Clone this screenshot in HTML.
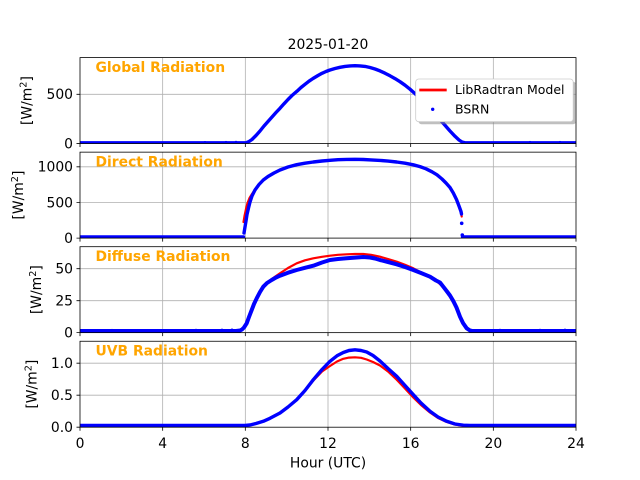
<!DOCTYPE html>
<html><head><meta charset="utf-8"><style>
html,body{margin:0;padding:0;background:#fff}
svg{display:block}
text{font-family:"DejaVu Sans","Liberation Sans",sans-serif;font-size:13.9px;fill:#000}
.t{font-weight:bold;fill:#FFA500}
.lg{font-size:12.5px}
.g{stroke:#b0b0b0;stroke-width:0.8;fill:none}
.b{fill:none;stroke:#0000ff;stroke-width:3.4;stroke-linejoin:round;stroke-linecap:round}
.r{fill:none;stroke:#ff0000;stroke-width:2.2;stroke-linejoin:round;stroke-linecap:round}
.k{stroke:#000;stroke-width:0.8;fill:none}
</style></head><body>
<svg width="640" height="480" viewBox="0 0 640 480" xmlns="http://www.w3.org/2000/svg">
<defs>
<clipPath id="c1"><rect x="80" y="57.6" width="496" height="85.95"/></clipPath>
<clipPath id="c2"><rect x="80" y="152.15" width="496" height="85.95"/></clipPath>
<clipPath id="c3"><rect x="80" y="246.7" width="496" height="85.95"/></clipPath>
<clipPath id="c4"><rect x="80" y="341.25" width="496" height="85.95"/></clipPath>
</defs>
<rect width="640" height="480" fill="#fff"/>

<!-- grids -->
<g class="g">
<path d="M162.67,57.6V143.55M245.33,57.6V143.55M328,57.6V143.55M410.67,57.6V143.55M493.33,57.6V143.55M80,94.3H576"/>
<path d="M162.67,152.15V238.1M245.33,152.15V238.1M328,152.15V238.1M410.67,152.15V238.1M493.33,152.15V238.1M80,202.5H576M80,166.8H576"/>
<path d="M162.67,246.7V332.65M245.33,246.7V332.65M328,246.7V332.65M410.67,246.7V332.65M493.33,246.7V332.65M80,300.7H576M80,268.7H576"/>
<path d="M162.67,341.25V427.2M245.33,341.25V427.2M328,341.25V427.2M410.67,341.25V427.2M493.33,341.25V427.2M80,395.2H576M80,363.2H576"/>
</g>

<!-- Panel 1 Global -->
<g clip-path="url(#c1)">
<polyline class="r" points="80,143 246,143 249,141.5 252,139.5 256,135.5 260,131 264,126 268,121.5 272,117 276,112.5 280,108.3 284,103.8 288,99.5 292,95.5 297,91.2 301,87.5 305,84.3 309,81.2 313,78.5 318,75.5 322,73.3 326,71.5 330,70 335,68.5 340,67.3 345,66.4 350,65.9 355,65.7 360,65.9 365,66.4 370,67.5 375,69 380,70.9 385,73.2 390,75.8 395,78.6 400,81.7 405,85.2 410,89.2 415,93.6 420,98.3 425,103.3 430,108.5 435,114 440,119.6 445,125.3 450,131 455,136.3 459,140 462,142 465,143 576,143"/>
<polyline class="b" points="80,142.8 246,142.8 249,141.5 252,139.5 256,135.5 260,131 264,126 268,121.5 272,117 276,112.5 280,108.3 284,103.8 288,99.5 292,95.5 297,91.2 301,87.5 305,84.3 309,81.2 313,78.5 318,75.5 322,73.3 326,71.5 330,70 335,68.5 340,67.3 345,66.4 350,65.9 355,65.7 360,65.9 365,66.4 370,67.5 375,69 380,70.9 385,73.2 390,75.8 395,78.6 400,81.7 405,85.2 410,89.2 415,93.6 420,98.3 425,103.3 430,108.5 435,114 440,119.6 445,125.3 450,131 455,136.3 459,140 462,142 465,142.8 576,142.8"/>
<g fill="#0000ff"><circle cx="205" cy="142.2" r="1.2"/><circle cx="226" cy="142.1" r="1.2"/><circle cx="236" cy="142" r="1.2"/><circle cx="530" cy="142.1" r="1.2"/><circle cx="560" cy="142.1" r="1.2"/></g>
</g>

<!-- Panel 2 Direct -->
<g clip-path="url(#c2)">
<polyline class="r" points="243.5,222 244.5,216 246,209 247.5,203 249.5,198 252,194 255,189.5 259,184.5 263.3,180 268,176.5 274,173 280,170 288,167 296.7,164.7 305,163.2 313.3,162 322,161 330,160.3 338,159.7 346.7,159.4 355,159.3 363.3,159.5 371,159.9 380,160.4 388,161.1 396.7,162 405,163.2 413.3,164.8 420,166.6 426,168.8 432,171.8 437,174.8 442,179 446,183 450,187.5 453.3,193 456.5,199.5 459,206 461,212 461.7,216.5"/>
<polyline class="b" points="80,237 243.5,237"/>
<polyline class="b" points="244,233 245,227 246,221 247,214.5 248.5,208 250,202 252,196 255,190 259,184.5 263.3,180 268,176.5 274,173 280,170 288,167 296.7,164.7 305,163.2 313.3,162 322,161 330,160.3 338,159.7 346.7,159.4 355,159.3 363.3,159.5 371,159.9 380,160.4 388,161.1 396.7,162 405,163.2 413.3,164.8 420,166.6 426,168.8 432,171.8 437,174.8 442,179 446,183 450,187.5 453.3,193 456.5,199.5 459,206 461,211.5 461.5,214"/>
<circle cx="461.7" cy="223.3" r="1.8" fill="#0000ff"/>
<circle cx="462.3" cy="235" r="1.8" fill="#0000ff"/>
<polyline class="b" points="462.5,237 576,237"/>
</g>

<!-- Panel 3 Diffuse -->
<g clip-path="url(#c3)">
<polyline class="r" points="80,332 236,332 240,331 242,329.8 244,327.5 246.7,323.3 249,317 251.7,310 254,304 256.7,298.3 260,292 263.3,286.5 267,282.5 271.7,279 276,276 280,273.3 288,268 296.7,263.3 305,260.3 313.3,258.3 322,256.8 330,255.7 338,254.8 346.7,254.3 355,254 363.3,254 371,254.8 380,256.7 388,259 396.7,261.7 405,264.8 413.3,268.3 421,272.3 430,276.7 436,280.5 441,285 446,291 450,297 454,304 458,312 462,320.5 465,326 468,329.5 471,331.5 474,332 576,332"/>
<polyline class="b" style="stroke-width:4" points="80,331 236,331 240,330.5 242,329.5 244,327.5 246.7,323.3 249,317 251.7,310 254,304 256.7,298.3 260,292 263.3,286.7 267,283 271.7,280 276,277.5 280,275.7 288,272.7 296.7,270 305,267.8 313.3,265.7 322,262.5 330,260 338,259 346.7,258.3 355,257.6 363.3,257 370,257.5 375,258.5 380,260 388,262 396.7,264.3 405,267 413.3,270 421,273 430,276.7 436,280.5 440,282.5 443.3,286.7 447,291.5 450,295.5 453.3,301 456.5,307.5 460,316.7 463,323 466.7,328.3 470,330.5 472,331 576,331"/>
<g fill="#0000ff"><circle cx="112" cy="330.3" r="1.4"/><circle cx="196" cy="330.2" r="1.4"/><circle cx="222" cy="330" r="1.4"/><circle cx="232" cy="329.9" r="1.4"/><circle cx="500" cy="330.1" r="1.4"/><circle cx="540" cy="330.1" r="1.4"/><circle cx="565" cy="330" r="1.4"/></g>
</g>

<!-- Panel 4 UVB -->
<g clip-path="url(#c4)">
<polyline class="r" points="80,426 245,426 250,425.3 256,423.8 263.3,421.5 270,418.5 280,413.2 288,407.2 296.7,400 305,391 313.3,380.6 322,371.5 330,366 337,361.5 343.3,358.8 349,357.6 355,357.3 361,357.8 366.7,359.5 373,362 380,365.5 388,371.5 396.7,379.7 405,388.5 413.3,397.5 421,405 430,412.5 438,418 446.7,422 455,424.6 463,425.9 470,426.2 576,426.2"/>
<polyline class="b" points="80,425.5 245,425.5 250,425 256,423.5 263.3,421.3 270,418.3 280,413 288,407 296.7,399.7 305,390.5 313.3,379.7 322,369.5 330,361.3 337,355.8 343.3,352.5 349,350.5 355,349.8 361,350.5 366.7,352 373,355.5 380,361 388,368.5 396.7,376.3 405,385.5 413.3,394.7 421,403 430,411.3 438,417 446.7,421.3 455,424 463.3,425.2 470,425.5 576,425.5"/>
</g>

<!-- spines -->
<g class="k">
<rect x="80" y="57.6" width="496" height="85.95"/>
<rect x="80" y="152.15" width="496" height="85.95"/>
<rect x="80" y="246.7" width="496" height="85.95"/>
<rect x="80" y="341.25" width="496" height="85.95"/>
<path d="M80,143.55v3.5M162.67,143.55v3.5M245.33,143.55v3.5M328,143.55v3.5M410.67,143.55v3.5M493.33,143.55v3.5M576,143.55v3.5"/>
<path d="M80,238.1v3.5M162.67,238.1v3.5M245.33,238.1v3.5M328,238.1v3.5M410.67,238.1v3.5M493.33,238.1v3.5M576,238.1v3.5"/>
<path d="M80,332.65v3.5M162.67,332.65v3.5M245.33,332.65v3.5M328,332.65v3.5M410.67,332.65v3.5M493.33,332.65v3.5M576,332.65v3.5"/>
<path d="M80,427.2v3.5M162.67,427.2v3.5M245.33,427.2v3.5M328,427.2v3.5M410.67,427.2v3.5M493.33,427.2v3.5M576,427.2v3.5"/>
<path d="M80,143.55h-3.5M80,94.3h-3.5"/>
<path d="M80,238.1h-3.5M80,202.5h-3.5M80,166.8h-3.5"/>
<path d="M80,332.65h-3.5M80,300.7h-3.5M80,268.7h-3.5"/>
<path d="M80,427.2h-3.5M80,395.2h-3.5M80,363.2h-3.5"/>
</g>

<!-- y tick labels -->
<g text-anchor="end">
<text x="73" y="148.4">0</text><text x="73" y="99.1">500</text>
<text x="73" y="242.9">0</text><text x="73" y="207.3">500</text><text x="73" y="171.6">1000</text>
<text x="73" y="337.4">0</text><text x="73" y="305.5">25</text><text x="73" y="273.5">50</text>
<text x="73" y="432">0.0</text><text x="73" y="400">0.5</text><text x="73" y="368">1.0</text>
</g>

<!-- x tick labels -->
<g text-anchor="middle">
<text x="80" y="448">0</text><text x="162.67" y="448">4</text><text x="245.33" y="448">8</text><text x="328" y="448">12</text><text x="410.67" y="448">16</text><text x="493.33" y="448">20</text><text x="576" y="448">24</text>
<text x="328" y="467.4">Hour (UTC)</text>
<text x="328" y="49">2025-01-20</text>
</g>

<!-- y labels -->
<g text-anchor="middle">
<text transform="translate(31.5,100.6) rotate(-90)">[W/m<tspan font-size="9.7px" dy="-5">2</tspan><tspan dy="5">]</tspan></text>
<text transform="translate(23.2,195.1) rotate(-90)">[W/m<tspan font-size="9.7px" dy="-5">2</tspan><tspan dy="5">]</tspan></text>
<text transform="translate(40.9,289.7) rotate(-90)">[W/m<tspan font-size="9.7px" dy="-5">2</tspan><tspan dy="5">]</tspan></text>
<text transform="translate(36.5,384.2) rotate(-90)">[W/m<tspan font-size="9.7px" dy="-5">2</tspan><tspan dy="5">]</tspan></text>
</g>

<!-- panel titles -->
<text class="t" x="95.5" y="72">Global Radiation</text>
<text class="t" x="95.5" y="166.6">Direct Radiation</text>
<text class="t" x="95.5" y="261.1">Diffuse Radiation</text>
<text class="t" x="95.5" y="355.7">UVB Radiation</text>

<!-- legend -->
<rect x="418.5" y="81.8" width="157.5" height="42.5" rx="3" fill="#808080" opacity="0.5"/>
<rect x="415.7" y="79" width="157.5" height="42.7" rx="3" fill="#fff" stroke="#cccccc" stroke-width="0.8"/>
<line x1="419.3" y1="90" x2="446.7" y2="90" stroke="#ff0000" stroke-width="2.8"/>
<circle cx="432.7" cy="109.3" r="1.7" fill="#0000ff"/>
<text class="lg" x="455" y="94">LibRadtran Model</text>
<text class="lg" x="455" y="113.5">BSRN</text>
</svg>
</body></html>
